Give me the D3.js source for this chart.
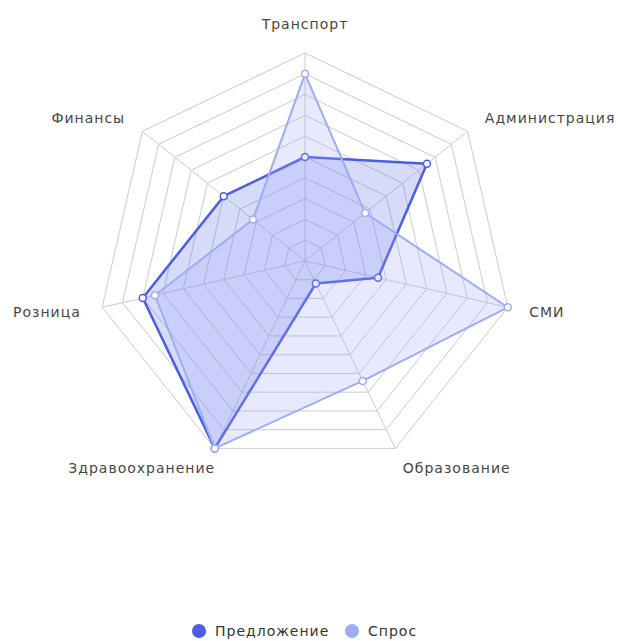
<!DOCTYPE html>
<html>
<head>
<meta charset="utf-8">
<script src="https://cdn.jsdelivr.net/npm/d3@7"></script>
<style>
  body { margin: 0; background: #fff; }
  svg { display: block; font-family: "DejaVu Sans", "Noto Sans", sans-serif; }
</style>
</head>
<body>
<div id="radar"></div>
<script>
// Data (indicators go counterclockwise from the top)
const indicators = ["Транспорт", "Финансы", "Розница", "Здравоохранение", "Образование", "СМИ", "Администрация"];
const maxValue = 100;
const supply = [50, 50, 80, 100, 12, 36, 75];   // Предложение
const demand = [90, 32, 74, 100, 64, 100, 37];  // Спрос
const seriesNames = ["Предложение", "Спрос"];
const seriesColors = ["#4a5de8", "#9eacf5"];

let width = 618, height = 641;
const cx = 305, cy = 261, R = 208;
const splits = 10;

let svg = d3.select("#radar")
  .append("svg")
  .attr("width", width)
  .attr("height", height);

const angle = d3.scaleLinear()
  .domain([0, indicators.length])
  .range([0, -2 * Math.PI]);

const r = d3.scaleLinear()
  .domain([0, maxValue])
  .range([0, R]);

// point for indicator i at value v
function pt(i, v) {
  const a = angle(i);
  return [cx + r(v) * Math.sin(a), cy - r(v) * Math.cos(a)];
}

const line = d3.line().curve(d3.curveLinearClosed);

// Grid rings
const levels = d3.range(1, splits + 1).map(k => k * maxValue / splits);
svg.append("g")
  .selectAll("path")
  .data(levels)
  .join("path")
  .attr("d", lv => line(indicators.map((_, i) => pt(i, lv))))
  .attr("fill", "none")
  .attr("stroke", "#cccccc")
  .attr("stroke-width", 1);

// Axis lines
svg.append("g")
  .selectAll("line")
  .data(indicators)
  .join("line")
  .attr("x1", cx)
  .attr("y1", cy)
  .attr("x2", (d, i) => pt(i, maxValue)[0])
  .attr("y2", (d, i) => pt(i, maxValue)[1])
  .attr("stroke", "#cccccc")
  .attr("stroke-width", 1);

// Indicator names (small horizontal nudges for the two bottom labels)
const nudge = [0, 0, 0, 10, -2, 0, 0];
svg.append("g")
  .selectAll("text")
  .data(indicators)
  .join("text")
  .each(function(d, i) {
    const a = angle(i);
    const dx = Math.sin(a), dy = -Math.cos(a);
    const p = pt(i, maxValue * 230 / R);
    let anchor = Math.abs(dx) < 0.05 ? "middle" : (dx > 0 ? "start" : "end");
    let yOff = Math.abs(dx) < 0.05 ? (dy < 0 ? -7 : 7) : 0;
    d3.select(this)
      .attr("x", p[0] + nudge[i])
      .attr("y", p[1] + yOff)
      .attr("text-anchor", anchor)
      .attr("dominant-baseline", "central");
  })
  .text(d => d)
  .attr("font-size", 14)
  .attr("letter-spacing", 1)
  .attr("fill", "#464646");

// Series
const series = [supply, demand];
series.forEach((vals, s) => {
  const pts = vals.map((v, i) => pt(i, v));
  const g = svg.append("g");
  g.append("path")
    .attr("d", line(pts))
    .attr("fill", seriesColors[s])
    .attr("fill-opacity", s === 0 ? 0.22 : 0.25)
    .attr("stroke", seriesColors[s])
    .attr("stroke-width", s === 0 ? 2.5 : 2)
    .attr("stroke-linejoin", "round");
  g.selectAll("circle")
    .data(pts)
    .join("circle")
    .attr("cx", d => d[0])
    .attr("cy", d => d[1])
    .attr("r", 3.5)
    .attr("fill", "#fff")
    .attr("stroke", seriesColors[s])
    .attr("stroke-width", 1.5);
});

// Legend
const legend = svg.append("g").attr("transform", "translate(0,631)");
const legendX = [199, 352];
seriesNames.forEach((name, i) => {
  legend.append("circle")
    .attr("cx", legendX[i])
    .attr("cy", 0)
    .attr("r", 7)
    .attr("fill", seriesColors[i]);
  legend.append("text")
    .attr("x", legendX[i] + 16)
    .attr("y", 0)
    .attr("dominant-baseline", "central")
    .attr("font-size", 14)
    .attr("letter-spacing", 1)
    .attr("fill", "#333")
    .text(name);
});
</script>
</body>
</html>
